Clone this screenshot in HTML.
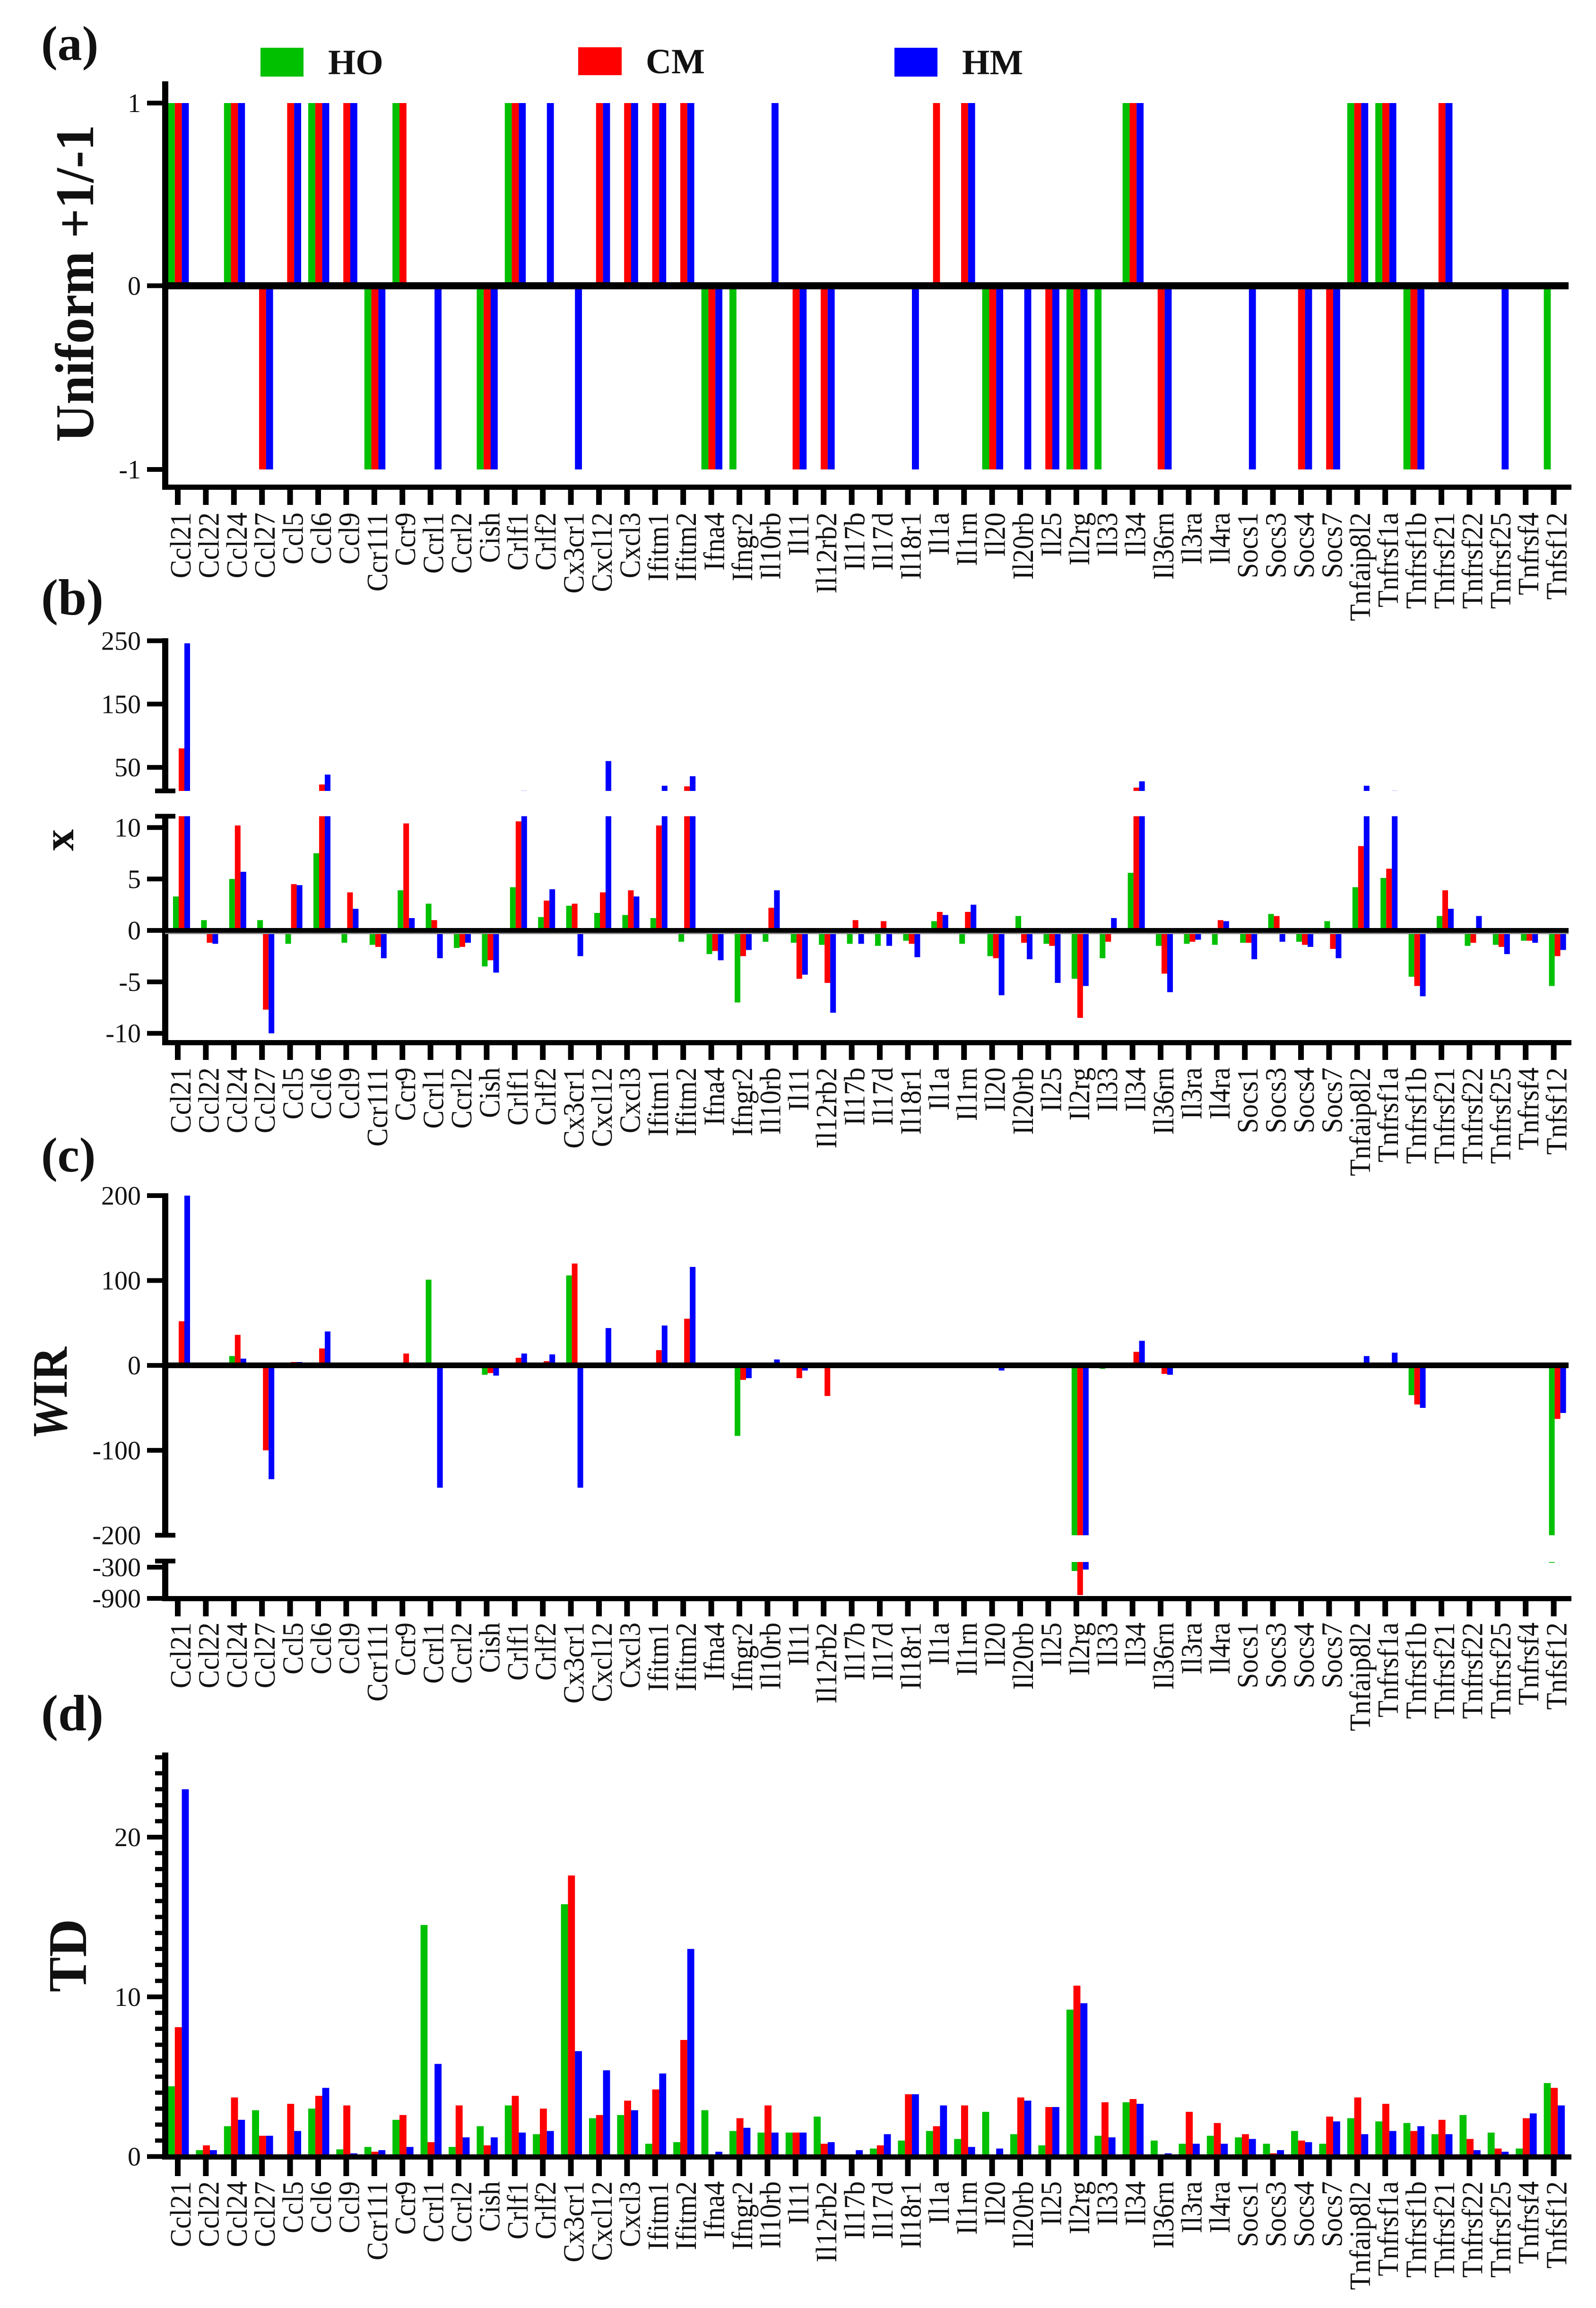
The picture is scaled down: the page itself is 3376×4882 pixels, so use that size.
<!DOCTYPE html>
<html lang="en">
<head>
<meta charset="utf-8">
<title>Uniform, x, WIR and TD by gene</title>
<style>
html,body{margin:0;padding:0;background:#fff;}
svg{display:block;}
text{font-family:"Liberation Serif",serif;fill:#111;}
</style>
</head>
<body>
<svg id="figure" xmlns="http://www.w3.org/2000/svg" width="3376" height="4882" viewBox="0 0 3376 4882">
  <rect x="0" y="0" width="3376" height="4882" fill="#fff"/>
  <text x="87" y="127" font-size="104" font-weight="bold">(a)</text>
  <text x="87" y="1300" font-size="108" font-weight="bold">(b)</text>
  <text x="87" y="2478" font-size="104" font-weight="bold">(c)</text>
  <text x="87" y="3660" font-size="108" font-weight="bold">(d)</text>

  <g>
    <rect x="551" y="101" width="91" height="61" fill="#00c000"/>
    <text x="694" y="157" font-size="75" font-weight="bold">HO</text>
    <rect x="1223" y="100" width="92" height="59" fill="#ff0000"/>
    <text x="1366" y="155" font-size="75" font-weight="bold">CM</text>
    <rect x="1892" y="101" width="91" height="61" fill="#0000ff"/>
    <text x="2035" y="157" font-size="75" font-weight="bold">HM</text>
  </g>

  <text transform="translate(197,935) rotate(-90)" font-size="115" font-weight="bold" textLength="671" lengthAdjust="spacingAndGlyphs">Uniform +1/-1</text>
  <text transform="translate(155,1800) rotate(-90)" font-size="92" font-weight="bold">x</text>
  <text transform="translate(141,3045) rotate(-90)" font-size="105" font-weight="bold" textLength="196" lengthAdjust="spacingAndGlyphs"><tspan font-style="italic">W</tspan>IR</text>
  <text transform="translate(182,4214) rotate(-90)" font-size="115" font-weight="bold" textLength="155" lengthAdjust="spacingAndGlyphs">TD</text>
</svg>
<script>
const genes = ["Ccl21","Ccl22","Ccl24","Ccl27","Ccl5","Ccl6","Ccl9","Ccr111","Ccr9","Ccrl1","Ccrl2","Cish","Crlf1","Crlf2","Cx3cr1","Cxcl12","Cxcl3","Ifitm1","Ifitm2","Ifna4","Ifngr2","Il10rb","Il11","Il12rb2","Il17b","Il17d","Il18r1","Il1a","Il1rn","Il20","Il20rb","Il25","Il2rg","Il33","Il34","Il36rn","Il3ra","Il4ra","Socs1","Socs3","Socs4","Socs7","Tnfaip8l2","Tnfrsf1a","Tnfrsf1b","Tnfrsf21","Tnfrsf22","Tnfrsf25","Tnfrsf4","Tnfsf12"];

const uniformHO = [1,0,1,0,0,1,0,-1,1,0,0,-1,1,0,0,0,0,0,0,-1,-1,0,0,0,0,0,0,0,0,-1,0,0,-1,-1,1,0,0,0,0,0,0,0,1,1,-1,0,0,0,0,-1];
const uniformCM = [1,0,1,-1,1,1,1,-1,1,0,0,-1,1,0,0,1,1,1,1,-1,0,0,-1,-1,0,0,0,1,1,-1,0,-1,-1,0,1,-1,0,0,0,0,-1,-1,1,1,-1,1,0,0,0,0];
const uniformHM = [1,0,1,-1,1,1,1,-1,0,-1,0,-1,1,1,-1,1,1,1,1,-1,0,1,-1,-1,0,0,-1,0,1,-1,-1,-1,-1,0,1,-1,0,0,-1,0,-1,-1,1,1,-1,1,0,-1,0,0];

const xHO = [3.3,1.0,5.0,1.0,-1.3,7.5,-1.2,-1.4,3.9,2.6,-1.7,-3.5,4.2,1.3,2.4,1.7,1.5,1.2,-1.1,-2.3,-7.0,-1.1,-1.2,-1.4,-1.3,-1.5,-1.0,0.9,-1.3,-2.5,1.4,-1.3,-4.7,-2.7,5.6,-1.5,-1.3,-1.4,-1.2,1.6,-1.1,0.9,4.2,5.1,-4.5,1.4,-1.5,-1.4,-1.0,-5.4];
const xCM = [80,-1.2,10.2,-7.7,4.5,23,3.7,-1.6,10.4,1.0,-1.6,-2.9,10.6,2.9,2.6,3.7,3.9,10.2,20,-2.0,-2.5,2.2,-4.7,-5.1,1.0,0.9,-1.3,1.8,1.8,-2.7,-1.2,-1.5,-8.5,-1.1,18,-4.2,-1.1,1.0,-1.2,1.4,-1.4,-1.8,8.2,6.0,-5.4,3.9,-1.2,-1.6,-1.0,-2.5];
const xHM = [246,-1.3,5.7,-10,4.4,38.6,2.1,-2.7,1.2,-2.7,-1.2,-4.1,13,4.0,-2.5,60,3.3,21,36,-2.9,-1.9,3.9,-4.3,-8.0,-1.3,-1.5,-2.6,1.5,2.5,-6.3,-2.8,-5.1,-5.4,1.2,28,-6.0,-0.9,0.9,-2.8,-1.1,-1.6,-2.7,21,13,-6.4,2.1,1.4,-2.3,-1.2,-1.9];

const wirHO = [0,0,11,0,0,3,0,0,0,101,0,-11,0,0,106,0,0,0,0,0,-83,0,0,0,0,0,0,0,0,0,0,0,-373,-4,0,0,0,0,0,0,0,0,0,0,-35,0,0,0,0,-215];
const wirCM = [52,0,36,-100,4,20,0,0,14,0,0,-9,9,5,120,0,0,18,55,0,-17,0,-15,-36,0,0,0,0,0,0,0,0,-836,0,16,-10,0,0,0,0,0,0,0,3,-46,0,0,0,0,-63];
const wirHM = [200,0,8,-134,4,40,0,0,0,-144,0,-12,14,13,-144,44,0,47,116,0,-15,7,-6,0,0,0,0,0,0,-6,0,0,-345,0,29,-11,0,0,0,0,0,0,11,15,-50,0,0,0,0,-56];

const tdHO = [4.4,0.4,1.9,2.9,0,3.0,0.45,0.6,2.3,14.5,0.6,1.9,3.2,1.4,15.8,2.4,2.6,0.8,0.9,2.9,1.6,1.5,1.5,2.5,0.1,0.5,1.0,1.6,1.1,2.8,1.4,0.7,9.2,1.3,3.4,1.0,0.8,1.3,1.2,0.8,1.6,0.8,2.4,2.2,2.1,1.4,2.6,1.5,0.5,4.6];
const tdCM = [8.1,0.7,3.7,1.3,3.3,3.8,3.2,0.3,2.6,0.9,3.2,0.7,3.8,3.0,17.6,2.6,3.5,4.2,7.3,0,2.4,3.2,1.5,0.8,0,0.7,3.9,1.9,3.2,0.1,3.7,3.1,10.7,3.4,3.6,0.1,2.8,2.1,1.4,0.2,1.0,2.5,3.7,3.3,1.6,2.3,1.1,0.5,2.4,4.3];
const tdHM = [23,0.4,2.3,1.3,1.6,4.3,0.2,0.4,0.6,5.8,1.2,1.2,1.5,1.6,6.6,5.4,2.9,5.2,13,0.3,1.8,1.5,1.5,0.9,0.4,1.4,3.9,3.2,0.6,0.5,3.5,3.1,9.6,1.2,3.3,0.2,0.8,0.8,1.1,0.4,0.9,2.2,1.4,1.6,1.9,1.4,0.4,0.3,2.7,3.2];

const uniformTicks = [1,0,-1];
const xTicks = [250,150,50,10,5,0,-5,-10];
const wirTicks = [200,100,0,-100,-200,-300,-900];
const tdMajorTicks = [20,10,0];

const seriesNames = ["ho","cm","hm"];
const seriesColors = ["#00c000","#ff0000","#0000ff"];

const svg = document.getElementById("figure");
const NS = "http://www.w3.org/2000/svg";

function xTick(i){ return 376 + i * 59.4; }

function linear(d0, d1, p0, p1){
  const f = function(v){ return p0 + (v - d0) * (p1 - p0) / (d1 - d0); };
  f.lo = Math.min(d0, d1);
  f.hi = Math.max(d0, d1);
  return f;
}

function box(x, y, w, h, color, name){
  const el = document.createElementNS(NS, "rect");
  el.setAttribute("x", x);
  el.setAttribute("y", y);
  el.setAttribute("width", w);
  el.setAttribute("height", h);
  el.setAttribute("fill", color);
  
  
  svg.appendChild(el);
  return el;
}

function label(x, y, str, size, anchor, rotate, name){
  const el = document.createElementNS(NS, "text");
  el.setAttribute("font-size", size);
  el.setAttribute("text-anchor", anchor);
  if (rotate) {
    el.setAttribute("transform", "translate(" + x + "," + y + ") rotate(-90) scale(0.94,1)");
  } else {
    el.setAttribute("x", x);
    el.setAttribute("y", y);
  }
  el.textContent = str;
  
  
  svg.appendChild(el);
  return el;
}

function drawBars(panel, series, groupOffset, barWidth, scales){
  series.forEach(function(values, s){
    values.forEach(function(v, i){
      if (v === 0) return;
      const a = Math.min(0, v), b = Math.max(0, v);
      scales.forEach(function(scale){
        const lo = Math.max(a, scale.lo), hi = Math.min(b, scale.hi);
        if (hi <= lo) return;
        const top = scale(hi), bottom = scale(lo);
        box(xTick(i) + groupOffset + s * barWidth, top, barWidth, bottom - top, seriesColors[s],
            panel + "-bar-" + seriesNames[s] + "-" + genes[i].toLowerCase());
      });
    });
  });
}

function drawCategoryAxis(panel, axisY, axisH, tickTop, tickBottom, labelTop){
  box(343, axisY, 2981, axisH, "#000", panel + "-x-axis");
  genes.forEach(function(g, i){
    box(xTick(i) - 6, tickTop, 12, tickBottom - tickTop, "#000", panel + "-x-tick-" + g.toLowerCase());
    label(xTick(i) + 27, labelTop, g, 62, "end", true, panel + "-x-label-" + g.toLowerCase());
  });
}

function yTick(panel, y, str){
  box(311, y - 5, 33, 10, "#000", panel + "-y-tick-" + str);
  label(298, y + 19, str, 56, "end", false, panel + "-y-label-" + str);
}

function breakCap(panel, y, n){
  box(328, y - 5, 43, 10, "#000", panel + "-axis-break-cap-" + n);
}

function vAxis(panel, top, bottom, n){
  box(343, top, 13, bottom - top, "#000", panel + "-y-axis-" + n);
}

/* panel a */
const aUp = linear(0, 1, 604.4, 218);
const aDown = linear(-1, 0, 993, 604.4);
drawBars("uniform", [uniformHO, uniformCM, uniformHM], -21, 14.8, [aUp, aDown]);
vAxis("uniform", 172, 1036, 1);
box(349, 597, 2969, 15, "#000", "uniform-zero-line");
uniformTicks.forEach(function(t){ yTick("uniform", t >= 0 ? aUp(t) : aDown(t), String(t)); });
drawCategoryAxis("uniform", 1025, 11, 1036, 1068, 1084);

/* panel b */
const bTop = linear(12.8, 260, 1673, 1342);
const bLow = linear(-11, 11.1, 2207.5, 1726.5);
drawBars("x", [xHO, xCM, xHM], -10, 12, [bTop, bLow]);
vAxis("x", 1350, 1678, 1);
vAxis("x", 1722, 2211, 2);
breakCap("x", 1673, 1);
breakCap("x", 1726.5, 2);
box(349, 1963, 2969, 10, "#000", "x-zero-line");
box(349, 1973, 2969, 3, "#8a8a8a", "x-zero-line-shadow");
xTicks.forEach(function(t){ yTick("x", t > 11 ? bTop(t) : bLow(t), String(t)); });
drawCategoryAxis("x", 2200, 11, 2211, 2242, 2258);

/* panel c */
const cMain = linear(-200, 200, 3247.4, 2529);
const cLow = linear(-900, -200, 3381, 3304);
drawBars("wir", [wirHO, wirCM, wirHM], -10, 12, [cMain, cLow]);
vAxis("wir", 2524, 3252, 1);
vAxis("wir", 3297, 3386, 2);
breakCap("wir", 3247.4, 1);
breakCap("wir", 3302, 2);
box(349, 2882, 2969, 12, "#000", "wir-zero-line");
wirTicks.forEach(function(t){
  const lower = t < -200;
  if (t !== -200) {
    yTick("wir", lower ? cLow(t) : cMain(t), String(t));
  } else {
    label(298, cMain(t) + 19, String(t), 56, "end", false, "wir-y-label--200");
  }
});
drawCategoryAxis("wir", 3376, 11, 3387, 3419, 3432);

/* panel d */
const dMain = linear(0, 25.3, 4561.6, 3707);
drawBars("td", [tdHO, tdCM, tdHM], -21, 14.8, [dMain]);
vAxis("td", 3707, 4567, 1);
for (let m = 1; m <= 25; m++) {
  box(328, dMain(m) - 4.5, 15, 9, "#000", "td-y-minor-tick-" + m);
}
tdMajorTicks.forEach(function(t){ yTick("td", dMain(t), String(t)); });
drawCategoryAxis("td", 4557, 11, 4568, 4603, 4614);
</script>
</body>
</html>
